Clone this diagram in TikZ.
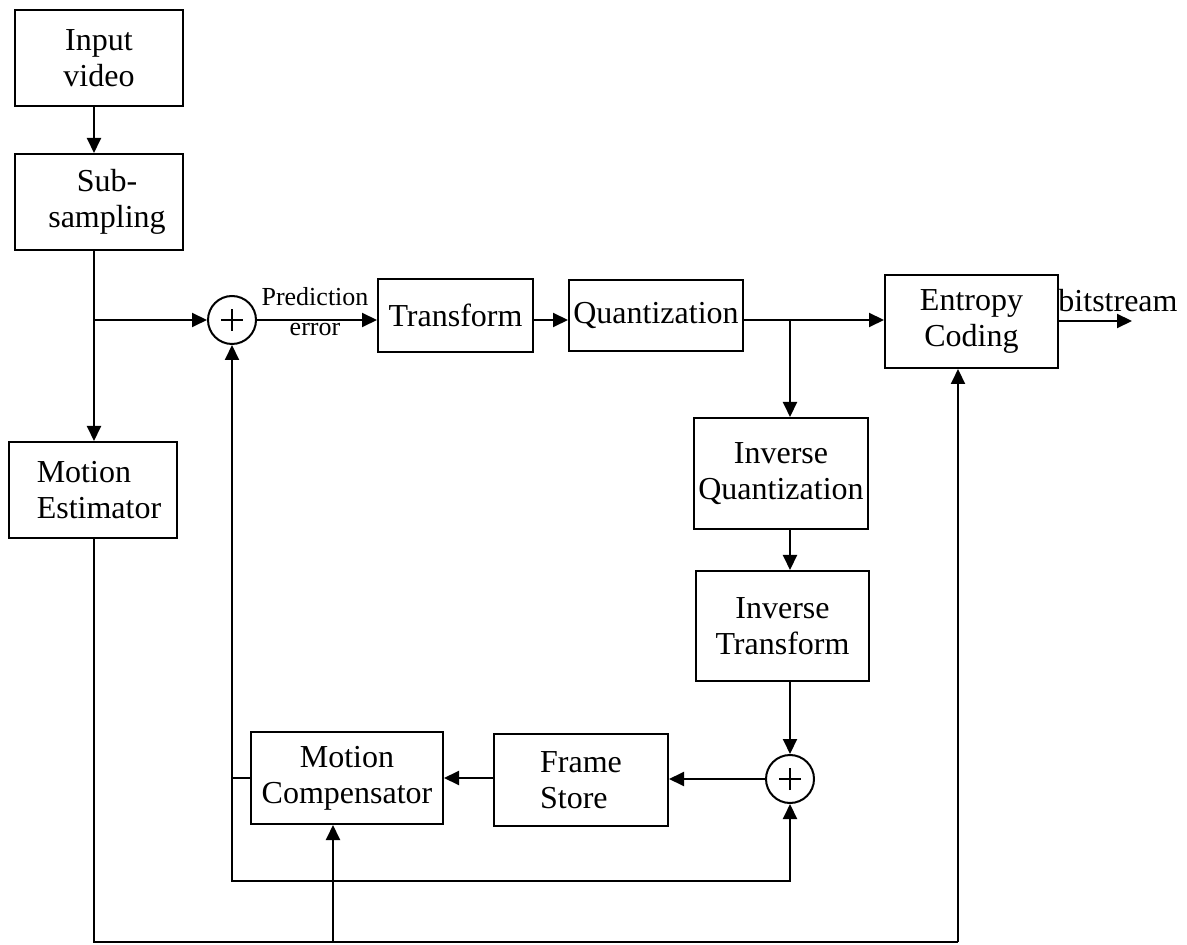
\documentclass[tikz,border=0pt]{standalone}
\usepackage{fontspec}
\setmainfont{Liberation Serif}
\usetikzlibrary{arrows.meta}
\newcommand\mainfnt{\fontsize{16}{18}\selectfont}
\newcommand\smallfnt{\fontsize{13}{15}\selectfont}
\begin{document}
\begin{tikzpicture}[x=0.5pt,y=-0.5pt, line width=1pt,
  box/.style={draw, rectangle, inner sep=0pt, anchor=north west, align=center, font=\mainfnt},
  bx/.style 2 args={minimum width=#1*0.5pt, minimum height=#2*0.5pt},
  sumnode/.style={draw, circle, inner sep=0pt, minimum size=24pt,
    path picture={
      \draw[line width=1pt] ([xshift=-5.5pt]path picture bounding box.center) -- ([xshift=5.5pt]path picture bounding box.center);
      \draw[line width=1pt] ([yshift=-5.5pt]path picture bounding box.center) -- ([yshift=5.5pt]path picture bounding box.center);}},
  arr/.style={-{Triangle[length=7.5pt,width=7pt]}}]
\useasboundingbox (0,0) rectangle (1187,945);

% blocks
\node[box, bx={168}{96}] (in) at (14,9) {Input\\video};
\node[box, bx={168}{96}] (ss) at (14,153) {\hspace*{8pt}Sub-\\\hspace*{8pt}sampling};
\node[box, bx={168}{96}, align=left] (me) at (8,441) {\hspace*{6pt}Motion\\\hspace*{6pt}Estimator};
\node[sumnode] (sum1) at (232,320) {};
\node[box, bx={155}{73}] (tr) at (377,278) {Transform};
\node[box, bx={174}{71}] (qu) at (568,279) {Quantization};
\node[box, bx={173}{93}] (en) at (884,274) {Entropy\\Coding};
\node[box, bx={174}{111}] (iq) at (693,417) {Inverse\\Quantization};
\node[box, bx={173}{110}] (it) at (695,570) {Inverse\\Transform};
\node[sumnode] (sum2) at (790,779) {};
\node[box, bx={174}{92}, align=left] (fs) at (493,733) {Frame\\Store};
\node[box, bx={192}{92}] (mc) at (250,731) {Motion\\Compensator};

% labels
\node[font=\smallfnt, align=center] (pe) at (315,312) {Prediction\\error};
\node[font=\mainfnt, anchor=base] (bst) at (1118,312) {bitstream};

% junction coordinates
\coordinate (b1) at (94,320);
\coordinate (b2) at (94,942);
\coordinate (b3) at (333,942);
\coordinate (b4) at (958,942);
\coordinate (q1) at (790,320);
\coordinate (j1) at (232,778);
\coordinate (j2) at (232,881);
\coordinate (j3) at (790,881);
\coordinate (bs) at (1132,321);

% connectors
\draw[arr] (in.south -| b1) -- (ss.north -| b1);
\draw (ss.south -| b1) -- (b1);
\draw[arr] (b1) -- (me.north -| b1);
\draw[arr] (b1) -- (sum1.west);
\draw[arr] (sum1.east) -- (tr.west |- sum1.east);
\draw[arr] (tr.east |- sum1.east) -- (qu.west |- sum1.east);
\draw (qu.east |- sum1.east) -- (q1);
\draw[arr] (q1) -- (en.west |- q1);
\draw[arr] (q1) -- (iq.north -| q1);
\draw[arr] (iq.south -| q1) -- (it.north -| q1);
\draw[arr] (it.south -| q1) -- (sum2.north);
\draw[arr] (sum2.west) -- (fs.east |- sum2.west);
\draw[arr] (fs.west |- j1) -- (mc.east |- j1);
\draw (mc.west |- j1) -- (j1);
\draw[arr] (j1) -- (sum1.south);
\draw[arr] (j1) -- (j2) -- (j3) -- (sum2.south);
\draw (me.south -| b1) -- (b2) -- (b4);
\draw[arr] (b4) -- (en.south -| b4);
\draw[arr] (b3) -- (mc.south -| b3);
\draw[arr] (en.east |- bs) -- (bs);
\end{tikzpicture}
\end{document}
